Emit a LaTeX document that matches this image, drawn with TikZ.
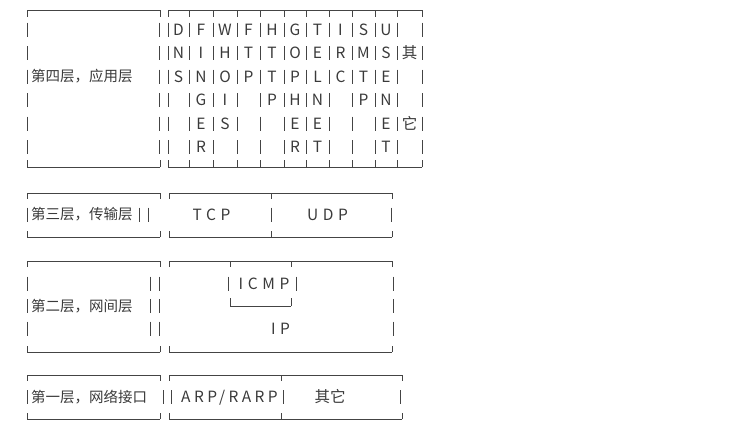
\documentclass[tikz,border=0pt]{standalone}
\usepackage{fontspec}
\setmainfont{Noto Sans CJK SC}
\definecolor{ink}{HTML}{444444}
\definecolor{txt}{HTML}{3A3A3A}

% edge line from #1 to #2 at height #3, ticks at #4 of length #5
\newcommand{\edge}[5]{%
  \draw[rule] (#1,#3) -- (#2,#3);
  \foreach \t in {#4} \draw[rule] (\t,#3) -- ++(0,#5);}
% vertical bars of one text row at height #1
\newcommand{\bars}[2]{%
  \foreach \b in {#2} \draw[rule] (\b,#1-7) -- (\b,#1+7);}

\begin{document}
\begin{tikzpicture}[x=1pt,y=-1pt]
	\tikzstyle{rule}=[draw=ink,line width=0.8pt]
	\tikzstyle{cell}=[inner sep=0pt,anchor=base,text=txt,font=\fontsize{15.5}{17}\selectfont]
	\tikzstyle{lbl}=[cell,anchor=base west,font=\fontsize{14.5}{16}\selectfont]
	\tikzstyle{spread}=[cell,font=\fontsize{15.5}{17}\selectfont\addfontfeature{LetterSpace=30}]
	\useasboundingbox (0,0) rectangle (742,429);

	% layer 4
	\edge{27}{160}{10}{27,160}{7}
	\edge{27}{160}{167}{27,160}{-7}
	\edge{168}{422}{10}{168,189,213,237,260,284,306,329,352,375,397,422}{7}
	\edge{168}{422}{167}{168,189,213,237,260,284,306,329,352,375,397,422}{-7}
	\foreach \r in {1,...,6}{
		\pgfmathsetmacro\yr{6+23.5*\r}
		\bars{\yr}{27,159,168,189,213,237,260,284,306,329,352,375,397,422}
	}
	\node[lbl] (l4) at (31,81.5) {第四层，应用层};
	\foreach \xc/\col [count=\c] in {178.5/{D,N,S},201/{F,I,N,G,E,R},225/{W,H,O,I,S},
		248.5/{F,T,P},272/{H,T,T,P},295/{G,O,P,H,E,R},317.5/{T,E,L,N,E,T},
		340.5/{I,R,C},363.5/{S,M,T,P},386/{U,S,E,N,E,T}}
		\foreach \ch [count=\r] in \col
			\node[cell] (g-\c-\r) at (\xc,11.5+23.5*\r) {\ch};
	\node[cell] (qi) at (409.5,58.5) {其};
	\node[cell] (ta) at (409.5,129) {它};

	% layer 3
	\edge{27}{160}{193}{27,160}{6}
	\edge{27}{160}{237}{27,160}{-6}
	\edge{169}{392}{193}{169,271,392}{6}
	\edge{169}{392}{237}{169,271,392}{-6}
	\bars{214.5}{27,139,148,271,391}
	\node[lbl] (l3) at (31,219.5) {第三层，传输层};
	\node[spread] (tcp) at (211.5,220) {TCP};
	\node[spread] (udp) at (327.5,220) {UDP};

	% layer 2
	\edge{27}{160}{261}{27,160}{6}
	\edge{27}{160}{352}{27,160}{-6}
	\edge{169}{392}{261}{169,230,291,392}{6}
	\edge{169}{392}{352}{169,392}{-6}
	\foreach \yr in {283.5,306,328.5}{
		\bars{\yr}{27,150,159,393}
	}
	\bars{283.5}{228,296}
	\edge{230}{291}{306}{230,291}{-8}
	\node[lbl] (l2) at (31,311) {第二层，网间层};
	\node[spread] (icmp) at (264,289) {ICMP};
	\node[spread] (ip) at (280.5,334) {IP};

	% layer 1
	\edge{27}{160}{375}{27,160}{6}
	\edge{27}{160}{419}{27,160}{-6}
	\edge{169}{402}{375}{169,281,402}{6}
	\edge{169}{402}{419}{169,281,402}{-6}
	\bars{397}{27,163,171,283,400}
	\node[lbl] (l1) at (31,402) {第一层，网络接口};
	\node[spread,font=\fontsize{15.5}{17}\selectfont\addfontfeature{LetterSpace=22}] (arp) at (229.5,402.5) {ARP/RARP};
	\node[cell] (other) at (330,402) {其它};
\end{tikzpicture}
\end{document}
